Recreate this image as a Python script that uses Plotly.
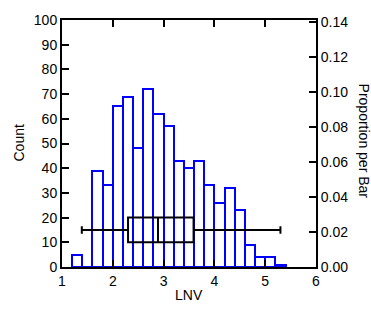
import plotly.graph_objects as go

# Histogram bins (left edges) and counts
bin_left = [1.2, 1.4, 1.6, 1.8, 2.0, 2.2, 2.4, 2.6, 2.8, 3.0, 3.2, 3.4, 3.6, 3.8, 4.0, 4.2, 4.4, 4.6, 4.8, 5.0, 5.2]
counts = [5, 0, 39, 33, 65, 69, 48, 72, 62, 57, 43, 40, 43, 33, 26, 32, 23, 9, 4, 4, 1]
bin_width = 0.2

# Box plot summary
box_lower = 1.39
box_q1 = 2.30
box_median = 2.89
box_q3 = 3.59
box_upper = 5.30
box_pos = 15

x_ticks = [1, 2, 3, 4, 5, 6]
count_ticks = [0, 10, 20, 30, 40, 50, 60, 70, 80, 90, 100]
prop_ticks = [0.00, 0.02, 0.04, 0.06, 0.08, 0.10, 0.12, 0.14]

total = sum(counts)
count_max = 100

FONT = "Liberation Sans, Arial, sans-serif"
BLUE = "#0000FF"

W, H = 371, 310
ML, MR, MT, MB = 62, 55, 13, 43

fig = go.Figure()
fig.add_trace(go.Bar(
    x=[b + bin_width / 2 for b in bin_left],
    y=counts,
    width=bin_width,
    marker=dict(color="rgba(255,255,255,0)", line=dict(color=BLUE, width=2)),
    showlegend=False,
    hoverinfo="skip",
))
fig.add_trace(go.Box(
    y=[box_pos],
    q1=[box_q1], median=[box_median], q3=[box_q3],
    lowerfence=[box_lower], upperfence=[box_upper],
    orientation="h",
    width=10,
    whiskerwidth=0.3,
    fillcolor="rgba(0,0,0,0)",
    line=dict(color="black", width=2),
    boxpoints=False,
    showlegend=False,
))
# invisible trace to activate right axis
fig.add_trace(go.Scatter(x=[1], y=[0], yaxis="y2", mode="markers",
                         marker=dict(opacity=0), showlegend=False, hoverinfo="skip"))

axis_common = dict(
    showline=True, linecolor="black", linewidth=2,
    ticks="inside", ticklen=7, tickwidth=2, tickcolor="black",
    showgrid=False, zeroline=False,
    tickfont=dict(family=FONT, size=14, color="black"),
)

plot_w = W - ML - MR
plot_h = H - MT - MB

title_font = dict(family=FONT, size=14, color="black")

fig.update_layout(
    width=W, height=H,
    margin=dict(l=ML, r=MR, t=MT, b=MB),
    paper_bgcolor="white", plot_bgcolor="white",
    bargap=0,
    xaxis=dict(range=[1, 6], tickvals=x_ticks, mirror="ticks", **axis_common),
    yaxis=dict(range=[0, count_max], tickvals=count_ticks, **axis_common),
    yaxis2=dict(range=[0, count_max / total], tickvals=prop_ticks, tickformat=".2f",
                overlaying="y", side="right", **axis_common),
    annotations=[
        dict(text="LNV", x=0.5, y=1 - (296 - MT) / plot_h, xref="paper", yref="paper",
             xanchor="center", yanchor="middle", showarrow=False, font=title_font),
        dict(text="Count", x=(18 - ML) / plot_w, xref="paper", y=0.5, yref="paper",
             textangle=-90, xanchor="center", yanchor="middle", showarrow=False, font=title_font),
        dict(text="Proportion per Bar", x=(364 - ML) / plot_w, xref="paper", y=1 - (137 - MT) / plot_h,
             yref="paper", textangle=90, xanchor="center", yanchor="middle",
             showarrow=False, font=title_font),
    ],
)

fig.write_html("out.html", config={"displayModeBar": False})

# remove default page margin so the figure sits at the window's top-left
with open("out.html", "r", encoding="utf-8") as f:
    html = f.read()
html = html.replace("<body>", "<body style=\"margin:0;padding:0;\">", 1)
with open("out.html", "w", encoding="utf-8") as f:
    f.write(html)
